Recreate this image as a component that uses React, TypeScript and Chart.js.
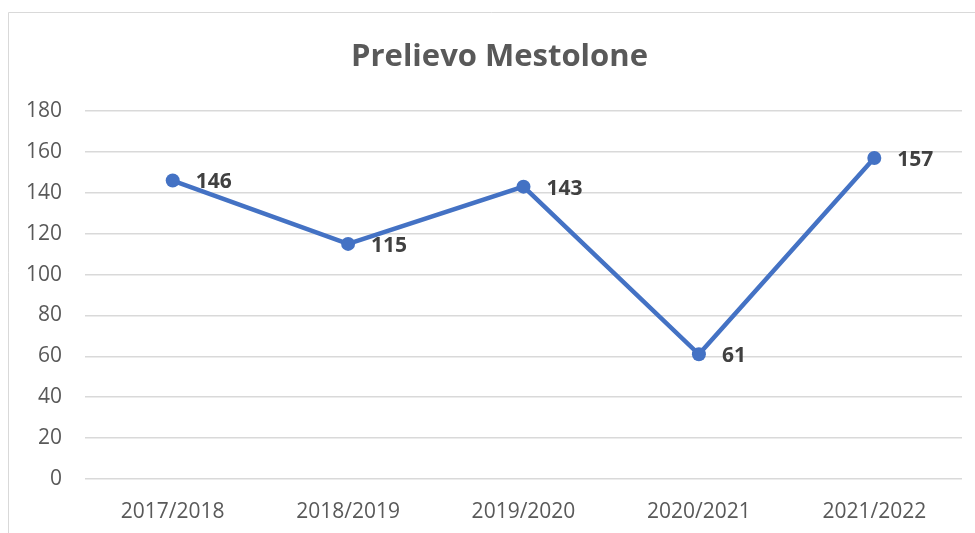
import React, { useEffect, useRef } from "react";
import { Chart, registerables } from "chart.js";

Chart.register(...registerables);

const TITLE = "Prelievo Mestolone";
const categories = ["2017/2018", "2018/2019", "2019/2020", "2020/2021", "2021/2022"];
const values = [146, 115, 143, 61, 157];
const yMin = 0;
const yMax = 180;
const yStep = 20;

const FONT = "'Open Sans', 'Liberation Sans', sans-serif";

const framePlugin = {
  id: "frame",
  beforeDraw(chart: any) {
    const ctx = chart.ctx;
    ctx.save();
    ctx.strokeStyle = "#d9d9d9";
    ctx.lineWidth = 1;
    ctx.beginPath();
    ctx.moveTo(8.5, chart.height);
    ctx.lineTo(8.5, 12.5);
    ctx.lineTo(chart.width, 12.5);
    ctx.stroke();
    ctx.restore();
  },
};

const titlePlugin = {
  id: "customTitle",
  afterDraw(chart: any) {
    const ctx = chart.ctx;
    ctx.save();
    ctx.font = `bold 31px ${FONT}`;
    ctx.fillStyle = "#595959";
    ctx.textAlign = "center";
    ctx.textBaseline = "middle";
    ctx.fillText(TITLE, 499.5, 57);
    ctx.restore();
  },
};

const labelPlugin = {
  id: "pointLabels",
  afterDatasetsDraw(chart: any) {
    const ctx = chart.ctx;
    const meta = chart.getDatasetMeta(0);
    ctx.save();
    ctx.font = `bold 21px ${FONT}`;
    ctx.fillStyle = "#404040";
    ctx.textAlign = "left";
    ctx.textBaseline = "middle";
    meta.data.forEach((pt: any, i: number) => {
      ctx.fillText(String(values[i]), pt.x + 23, pt.y + 2);
    });
    ctx.restore();
  },
};

export default function App() {
  const ref = useRef<HTMLCanvasElement>(null);
  useEffect(() => {
    if (!ref.current) return;
    const chart = new Chart(ref.current, {
      type: "line",
      data: {
        labels: categories,
        datasets: [
          {
            data: values,
            borderColor: "#4472C4",
            backgroundColor: "#4472C4",
            borderWidth: 4.5,
            pointRadius: 7,
            pointHoverRadius: 7,
            pointBorderWidth: 0,
            pointBackgroundColor: "#4472C4",
            tension: 0,
          },
        ],
      },
      options: {
        responsive: false,
        animation: false,
        layout: { padding: { top: 111, right: 13, left: 0, bottom: 0 } },
        plugins: {
          legend: { display: false },
          title: { display: false },
          tooltip: { enabled: false },
        },
        scales: {
          x: {
            offset: true,
            grid: { display: false, drawTicks: false },
            border: { display: false },
            ticks: {
              color: "#595959",
              font: { family: FONT, size: 21 },
              padding: 20,
              maxRotation: 0,
            },
            afterFit(scale: any) {
              scale.height = 54;
            },
          },
          y: {
            min: yMin,
            max: yMax,
            grid: { color: "#d9d9d9", lineWidth: 1.5, drawTicks: false },
            border: { display: false },
            ticks: {
              stepSize: yStep,
              color: "#595959",
              font: { family: FONT, size: 21 },
              padding: 23,
            },
            afterFit(scale: any) {
              scale.width = 85;
            },
          },
        },
      },
      plugins: [framePlugin, titlePlugin, labelPlugin],
    });
    return () => chart.destroy();
  }, []);
  return (
    <div style={{ position: "fixed", left: 0, top: 0, width: 975, height: 533, background: "#fff" }}>
      <canvas ref={ref} width={975} height={533} />
    </div>
  );
}
